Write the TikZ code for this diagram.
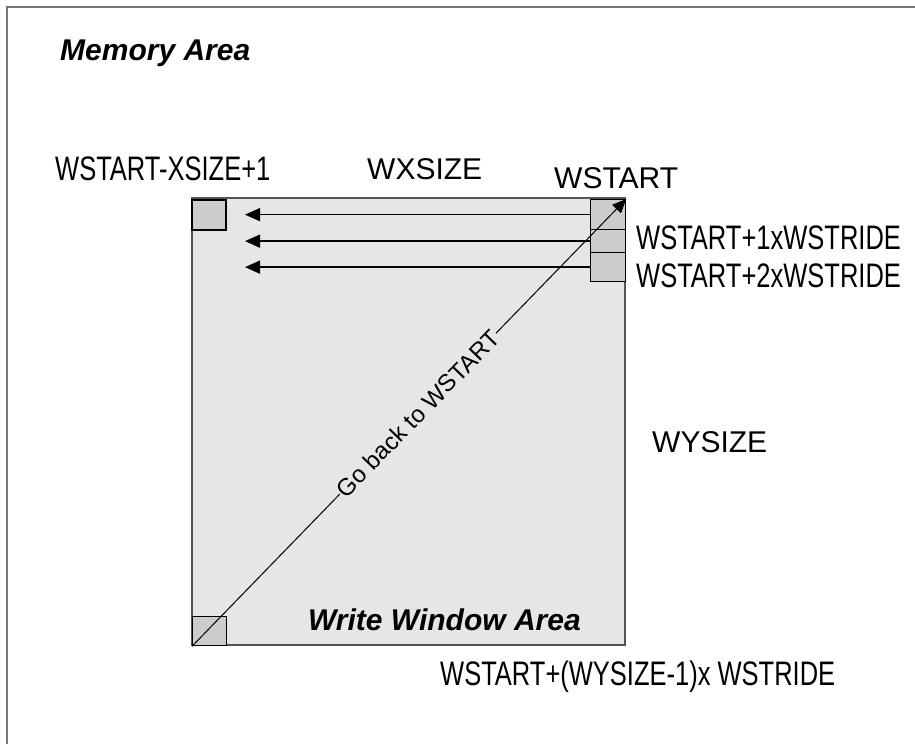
\documentclass[tikz,border=0pt]{standalone}
\usepackage{fontspec}
\setmainfont{Liberation Sans}
\newfontfamily\narrowfont[FakeStretch=0.75]{Liberation Sans}
\usetikzlibrary{arrows.meta}
\definecolor{winfill}{HTML}{E6E6E6}
\definecolor{sqfill}{HTML}{CCCCCC}
\definecolor{framegray}{HTML}{777777}
\definecolor{wingray}{HTML}{555555}
\tikzset{
  lbl/.style={anchor=base west, inner sep=0pt, font=\fontsize{30}{34}\selectfont},
  nlbl/.style={anchor=base west, inner sep=0pt, font=\narrowfont\fontsize{34}{38}\selectfont},
  blbl/.style={anchor=base west, inner sep=0pt, font=\bfseries\itshape\fontsize{30}{34}\selectfont},
  sq/.style={draw=black, line width=1.3pt, fill=sqfill},
  arr/.style={line width=1.5pt, -{Triangle[length=15pt,width=13pt]}},
}
\begin{document}
\begin{tikzpicture}[x=1pt,y=-1pt]
\useasboundingbox (0,0) rectangle (915,744);
% memory area frame
\draw[framegray, line width=2pt] (7,744) -- (7,7) -- (915,7);
\node[blbl] (mem) at (60,60) {Memory Area};
% write window
\draw[wingray, line width=1.5pt, fill=winfill] (192,198) rectangle (625,645);
\node[blbl] (wwa) at (308,630) {Write Window Area};
% squares
\draw[sq] (192,200) rectangle (226,230);
\node[sq, minimum width=34pt, minimum height=29pt, inner sep=0pt, anchor=north west] (bl) at (192,616) {};
\node[sq, minimum width=35pt, minimum height=30pt, inner sep=0pt, anchor=north west] (s1) at (590,199) {};
\node[sq, minimum width=35pt, minimum height=23pt, inner sep=0pt, anchor=north west] (s2) at (590,229) {};
\node[sq, minimum width=35pt, minimum height=29pt, inner sep=0pt, anchor=north west] (s3) at (590,252) {};
% arrows
\coordinate (t1) at (245,214);
\coordinate (t2) at (245,240);
\coordinate (t3) at (245,266);
\draw[arr] (s1.west) -- (s1.west -| t1);
\draw[arr] (s2.west) -- (s2.west -| t2);
\draw[arr] (s3.west) -- (s3.west -| t3);
% diagonal
\draw[line width=1pt, -{Triangle[length=14pt,width=12pt]}] (bl.south west) -- node[pos=0.52, sloped, fill=winfill, inner sep=1pt, font=\fontsize{24}{28}\selectfont] (gb) {Go back to WSTART} (s1.north east);
% labels
\node[nlbl] (xs) at (55,180) {WSTART-XSIZE+1};
\node[lbl] (wx) at (367,179) {WXSIZE};
\node[lbl] (ws) at (554,188) {WSTART};
\node[nlbl] (w1) at (636,249) {WSTART+1xWSTRIDE};
\node[nlbl] (w2) at (636,287) {WSTART+2xWSTRIDE};
\node[lbl] (wy) at (652,452) {WYSIZE};
\node[nlbl] (wl) at (440,685) {WSTART+(WYSIZE-1)x WSTRIDE};
\end{tikzpicture}
\end{document}
